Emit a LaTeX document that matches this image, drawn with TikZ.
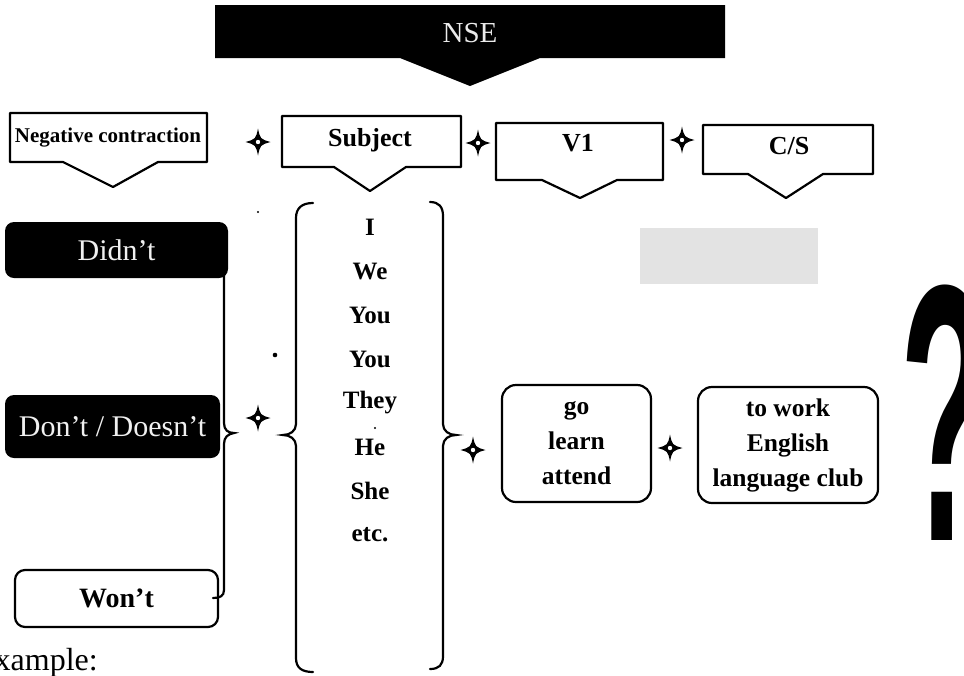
\documentclass[tikz,border=0pt]{standalone}
\usepackage{fontspec}
\setmainfont{Liberation Serif}
\setsansfont{Liberation Sans}
\begin{document}
\begin{tikzpicture}[x=1pt,y=-1pt,
  outline/.style={draw=black,line width=2.2pt,line join=round},
  bracepath/.style={draw=black,line width=2.2pt,line cap=round},
  headtext/.style={inner sep=0pt,font=\fontsize{26}{30}\selectfont\bfseries},
  darkbox/.style={fill=black,rounded corners=9pt,text=black!6,inner sep=0pt,
    font=\fontsize{30}{34}\selectfont},
  whitebox/.style={draw=black,line width=2.2pt,rounded corners=10pt,inner sep=0pt,
    font=\fontsize{28}{32}\selectfont\bfseries},
  roundbox/.style={draw=black,line width=2.2pt,rounded corners=14pt,inner sep=0pt,
    align=center,font=\fontsize{25.5}{35}\selectfont\bfseries},
  subj/.style={inner sep=0pt,font=\fontsize{25}{29}\selectfont\bfseries},
  sparkle/.pic={
    \fill[black] (0,-13.5) .. controls (2.2,-3) .. (12.5,0) .. controls (2.2,3) .. (0,13.5)
      .. controls (-2.2,3) .. (-12.5,0) .. controls (-2.2,-3) .. cycle;
    \fill[white] (0,0) circle (2.2);
  }
]
\useasboundingbox (0,0) rectangle (964,675);

% smudged grey patch
\fill[black!11] (640,228) rectangle (818,284);

% title banner
\fill[black] (215,5) -- (725,5) -- (725,58) -- (540,58) -- (470,86) -- (400,58) -- (215,58) -- cycle;
\node[inner sep=0pt,text=black!8,font=\fontsize{29}{34}\selectfont] (title) at (470,33) {NSE};

% heading callouts
\draw[outline,fill=white] (10,113) -- (207,113) -- (207,162) -- (158,162) -- (113,187) -- (63,162) -- (10,162) -- cycle;
\node[inner sep=0pt,font=\fontsize{21}{25}\selectfont\bfseries] (neg) at (108,138) {Negative contraction};

\draw[outline,fill=white] (282,116) -- (461,116) -- (461,167) -- (406,167) -- (370,191) -- (334,167) -- (282,167) -- cycle;
\node[headtext] (subject) at (370,140) {Subject};

\draw[outline,fill=white] (496,123) -- (663,123) -- (663,180) -- (617,180) -- (580,198) -- (542,180) -- (496,180) -- cycle;
\node[headtext] (vone) at (578,143) {V1};

\draw[outline,fill=white] (703,125) -- (873,125) -- (873,174) -- (823,174) -- (786,198) -- (748,174) -- (703,174) -- cycle;
\node[headtext] (cs) at (789,146) {C/S};

\pic at (258,142) {sparkle};
\pic at (478,143) {sparkle};
\pic at (682,140) {sparkle};

% negative contractions
\node[darkbox,minimum width=223pt,minimum height=56pt] (didnt) at (116.5,250) {Didn't};
\node[darkbox,minimum width=215pt,minimum height=63pt] (dont) at (112.5,426.5) {Don't / Doesn't};
\node[whitebox,minimum width=203pt,minimum height=57pt] (wont) at (116.5,598.5) {Won't};

\draw[bracepath] (224,272) -- (224,423) .. controls (224,430) and (228,433) .. (234,433)
  .. controls (228,434) and (224,437) .. (224,444) -- (224,590)
  .. controls (224,596) and (220,598) .. (213,598);

\pic at (258,418) {sparkle};
\fill[black] (275,355) circle (2.3);
\fill[black] (258,212) circle (1.2);

% subjects
\draw[bracepath] (313,203) .. controls (302,203) and (296,208) .. (296,218) -- (296,424)
  .. controls (296,431) and (290,435) .. (283,435) .. controls (290,435) and (296,439) .. (296,446)
  -- (296,658) .. controls (296,668) and (302,672) .. (313,672);
\draw[bracepath] (430,202) .. controls (439,202) and (443,207) .. (443,216) -- (443,424)
  .. controls (443,431) and (449,435) .. (456,435) .. controls (449,435) and (443,439) .. (443,446)
  -- (443,656) .. controls (443,665) and (439,669) .. (430,669);

\foreach \w [count=\i] in {I,We,You,You,They,He,She,etc.}
  \node[subj] (s\i) at (370,{227+44*(\i-1)}) {\w};
\fill[black] (375,428) circle (1.2);

% verbs and complements
\pic at (473,450) {sparkle};
\node[roundbox,minimum width=149pt,minimum height=117pt] (verbs) at (576.5,443.5) {go\\learn\\attend};
\pic at (670,448) {sparkle};
\node[roundbox,minimum width=180pt,minimum height=116pt] (comp) at (788,445) {to work\\English\\language club};

% question mark
\node[anchor=base,inner sep=0pt,font=\fontsize{366}{370}\selectfont\sffamily\bfseries] (qm) at (945,540) {\scalebox{0.4}[1]{?}};

% example heading
\node[anchor=base east,inner sep=0pt,font=\fontsize{32}{36}\selectfont] (example) at (98,670) {Example:};
\end{tikzpicture}
\end{document}
